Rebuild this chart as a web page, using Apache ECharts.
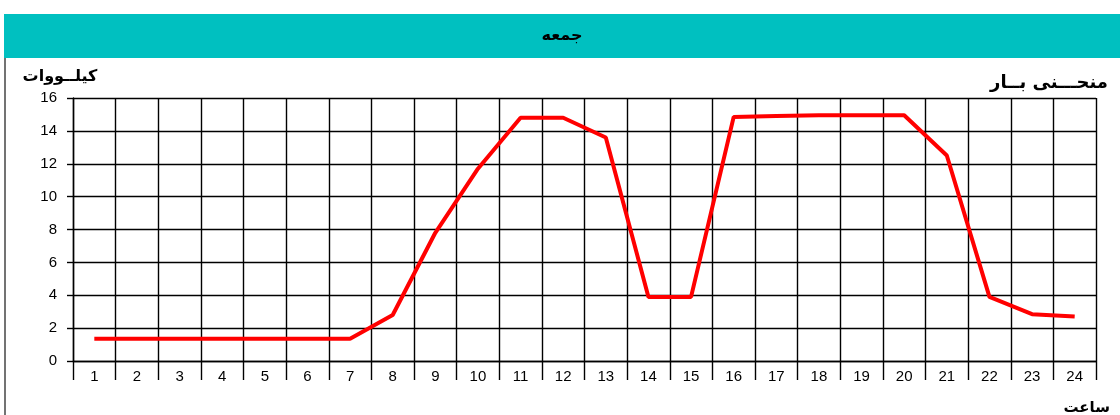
<!DOCTYPE html>
<html><head><meta charset="utf-8">
<script src="https://cdn.jsdelivr.net/npm/echarts@6/dist/echarts.min.js"></script>
<style>html,body{margin:0;padding:0;background:#fff}#c{width:1120px;height:415px}</style>
</head><body><div id="c"></div>
<script>
const hours = ['1','2','3','4','5','6','7','8','9','10','11','12','13','14','15','16','17','18','19','20','21','22','23','24'];
const load = [1.35,1.35,1.35,1.35,1.35,1.35,1.35,2.8,7.8,11.7,14.8,14.8,13.6,3.9,3.9,14.85,14.9,14.95,14.95,14.95,12.5,3.9,2.85,2.7];
const yTicks = [0,2,4,6,8,10,12,14,16];
const titleText = 'جمعه';
const yName = 'كيلــووات';
const chartName = 'منحـــنى بــار';
const xName = 'ساعت';

const chart = echarts.init(document.getElementById('c'));
chart.setOption({
  animation:false,
  backgroundColor:'#fff',
  grid:{left:73,right:24,top:98,bottom:54,containLabel:false},
  graphic:[
    {type:'rect',shape:{x:4,y:14,width:1116,height:44},style:{fill:'#00C0C0'},z:-1},
    {type:'line',shape:{x1:5,y1:58,x2:5,y2:415},style:{stroke:'#444',lineWidth:1.5}},
    {type:'text',x:562,y:36,style:{text:titleText,font:'bold 16px "DejaVu Sans"',fill:'#000',align:'center',verticalAlign:'middle'}},
    {type:'text',x:60,y:77,style:{text:yName,font:'bold 16px "DejaVu Sans"',fill:'#000',align:'center',verticalAlign:'middle'}},
    {type:'text',x:1108,y:83,style:{text:chartName,font:'bold 18px "DejaVu Sans"',fill:'#000',align:'right',verticalAlign:'middle'}},
    {type:'text',x:1110,y:408,style:{text:xName,font:'bold 15px "DejaVu Sans"',fill:'#000',align:'right',verticalAlign:'middle'}}
  ],
  xAxis:{
    type:'category',data:hours,boundaryGap:true,
    axisLine:{show:true,lineStyle:{color:'#000',width:1.4}},
    axisTick:{show:true,alignWithLabel:false,interval:0,length:19,lineStyle:{color:'#000',width:1.4}},
    axisLabel:{interval:0,color:'#000',fontFamily:'Liberation Sans',fontSize:15,margin:8},
    splitLine:{show:true,interval:0,lineStyle:{color:'#000',width:1.4}}
  },
  yAxis:{
    type:'value',min:0,max:16,interval:2,
    axisLine:{show:true,lineStyle:{color:'#000',width:1.4}},
    axisTick:{show:true,length:6,lineStyle:{color:'#000',width:1.4}},
    axisLabel:{color:'#000',fontFamily:'Liberation Sans',fontSize:15,margin:16},
    splitLine:{show:true,lineStyle:{color:'#000',width:1.4}}
  },
  series:[{type:'line',data:load,symbol:'none',lineStyle:{color:'#ff0000',width:4},z:5}]
});
</script></body></html>
